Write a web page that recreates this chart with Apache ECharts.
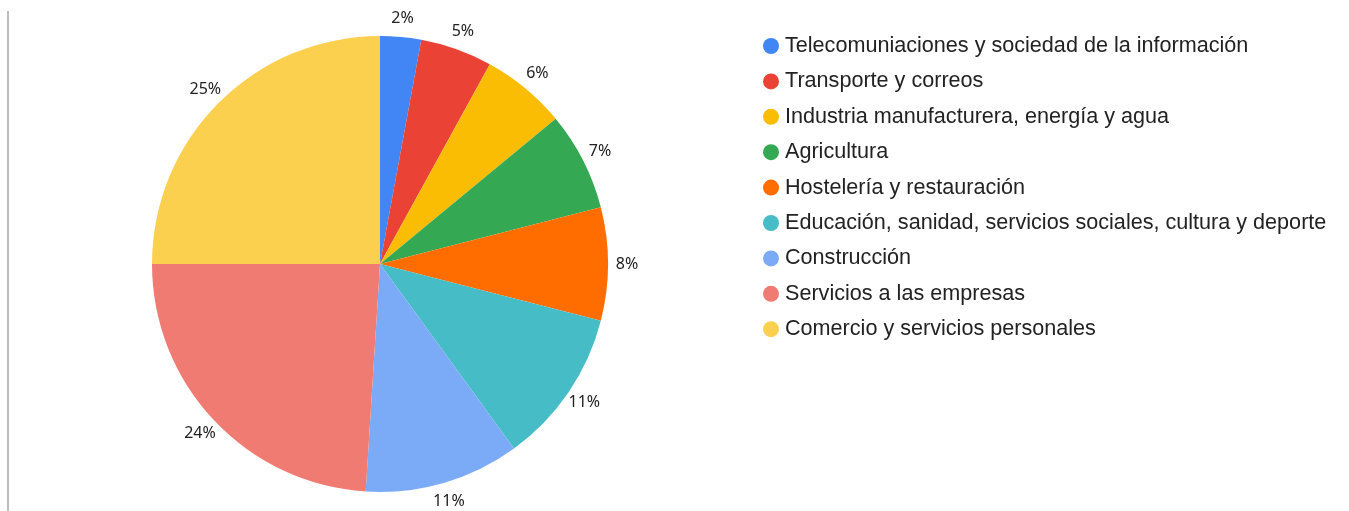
<!DOCTYPE html>
<html>
<head>
<meta charset="utf-8">
<script src="https://cdn.jsdelivr.net/npm/echarts@6/dist/echarts.min.js"></script>
<style>
  html, body { margin: 0; padding: 0; background: #fff; }
  #chart { width: 1349px; height: 511px; }
</style>
</head>
<body>
<div id="chart"></div>
<script>
// sectores, en el orden del gráfico (empieza arriba, sentido horario)
var sectores = [
  'Telecomuniaciones y sociedad de la información',
  'Transporte y correos',
  'Industria manufacturera, energía y agua',
  'Agricultura',
  'Hostelería y restauración',
  'Educación, sanidad, servicios sociales, cultura y deporte',
  'Construcción',
  'Servicios a las empresas',
  'Comercio y servicios personales'
];
var porcentajes = [2.9, 5.1, 6.0, 7.0, 8.0, 11.0, 11.0, 24.0, 25.0];
var colores = ['#4285F4', '#EA4335', '#FBBC04', '#34A853', '#FF6D01',
               '#46BDC6', '#7BAAF7', '#F07B72', '#FCD04F'];

var datos = sectores.map(function (s, i) {
  return { name: s, value: porcentajes[i], itemStyle: { color: colores[i] } };
});

var chart = echarts.init(document.getElementById('chart'));
var option = {
  animation: false,
  legend: {
    orient: 'vertical',
    left: 758,
    top: 30,
    icon: 'circle',
    itemWidth: 16,
    itemHeight: 16,
    itemGap: 13.4,
    data: sectores,
    textStyle: {
      fontFamily: 'Liberation Sans', fontSize: 21.6, color: '#222',
      lineHeight: 20, padding: [0, 0, 0, 1]
    }
  },
  graphic: [{
    type: 'rect',
    shape: { x: 7, y: 11, width: 2, height: 500 },
    style: { fill: '#bdbdbd' }
  }],
  series: [{
    type: 'pie',
    center: [380, 264],
    radius: 228,
    startAngle: 90,
    clockwise: true,
    label: { show: false },
    labelLine: { show: false },
    emphasis: { disabled: true },
    itemStyle: { borderWidth: 0 },
    data: datos
  }, {
    // anillo transparente solo para colocar las etiquetas de porcentaje
    type: 'pie',
    center: [380, 264],
    radius: [228, 260],
    startAngle: 90,
    clockwise: true,
    silent: true,
    legendHoverLink: false,
    emphasis: { disabled: true },
    itemStyle: { color: 'rgba(0,0,0,0)' },
    label: {
      show: true,
      position: 'inside',
      fontFamily: 'Noto Sans',
      fontSize: 16,
      color: '#222',
      formatter: function (p) { return Math.floor(p.percent + 1e-6) + '%'; }
    },
    labelLine: { show: false },
    data: sectores.map(function (s, i) { return { name: s, value: porcentajes[i] }; })
  }]
};
chart.setOption(option);
</script>
</body>
</html>
